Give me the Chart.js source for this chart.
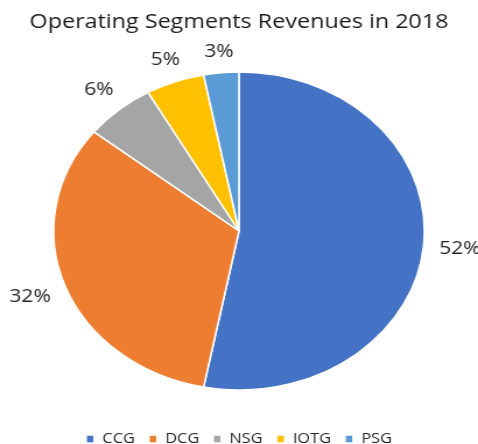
<!DOCTYPE html>
<html>
<head>
<meta charset="utf-8">
<script src="https://cdn.jsdelivr.net/npm/chart.js@4"></script>
<style>
  html, body { margin: 0; padding: 0; background: #ffffff; overflow: hidden; }
  #wrap {
    position: absolute; left: 0; top: 0;
    width: 410px; height: 444px;
    transform: scaleX(1.1659);
    transform-origin: 0 0;
  }
</style>
</head>
<body>
<div id="wrap"><canvas id="segChart"></canvas></div>
<script>
const segments = ["CCG", "DCG", "NSG", "IOTG", "PSG"];
const revenueShare = [52, 32, 6, 5, 3];
const segmentColors = ["#4472C4", "#ED7D31", "#A5A5A5", "#FFC000", "#5B9BD5"];
const shareLabels = revenueShare.map(v => v + "%");

const FONT = "'Open Sans', 'Liberation Sans', sans-serif";

// percent labels outside each slice, like Excel's "outside end"
const outsideLabels = {
    id: "outsideLabels",
    afterDatasetsDraw(chart)
    {
        const { ctx } = chart;
        const meta = chart.getDatasetMeta(0);
        const gap = 13;
        const fontSize = 18;

        ctx.save();
        ctx.font = fontSize + "px " + FONT;
        ctx.fillStyle = "#262626";
        ctx.textAlign = "center";
        ctx.textBaseline = "middle";

        meta.data.forEach((arc, index) =>
        {
            const { x, y, startAngle, endAngle, outerRadius } = arc.getProps(["x", "y", "startAngle", "endAngle", "outerRadius"], true);
            const mid = (startAngle + endAngle) / 2;
            const ux = Math.cos(mid);
            const uy = Math.sin(mid);
            const text = shareLabels[index];
            const w = ctx.measureText(text).width;
            const h = fontSize * 0.75;
            const dist = outerRadius + gap + Math.abs(ux) * w / 2 + Math.abs(uy) * h / 2;
            ctx.fillText(text, x + ux * dist, y + uy * dist);
        });

        ctx.restore();
    }
};

new Chart(document.getElementById("segChart"), {
    type: "pie",
    data: {
        labels: segments,
        datasets: [{
            data: revenueShare,
            backgroundColor: segmentColors,
            borderColor: "#ffffff",
            borderWidth: 1.5,
            radius: 159
        }]
    },
    options: {
        responsive: true,
        maintainAspectRatio: false,
        animation: false,
        layout: { padding: 0 },
        plugins: {
            title: {
                display: true,
                text: "Operating Segments Revenues in 2018",
                color: "#1a1a1a",
                font: { family: FONT, size: 20, weight: "normal", lineHeight: 1.2 },
                padding: { top: 10, bottom: 8 }
            },
            legend: {
                position: "bottom",
                maxHeight: 24,
                labels: {
                    color: "#262626",
                    font: { family: FONT, size: 14 },
                    boxWidth: 7,
                    boxHeight: 8,
                    padding: 12
                }
            },
            tooltip: { enabled: false }
        }
    },
    plugins: [outsideLabels]
});
</script>
</body>
</html>
